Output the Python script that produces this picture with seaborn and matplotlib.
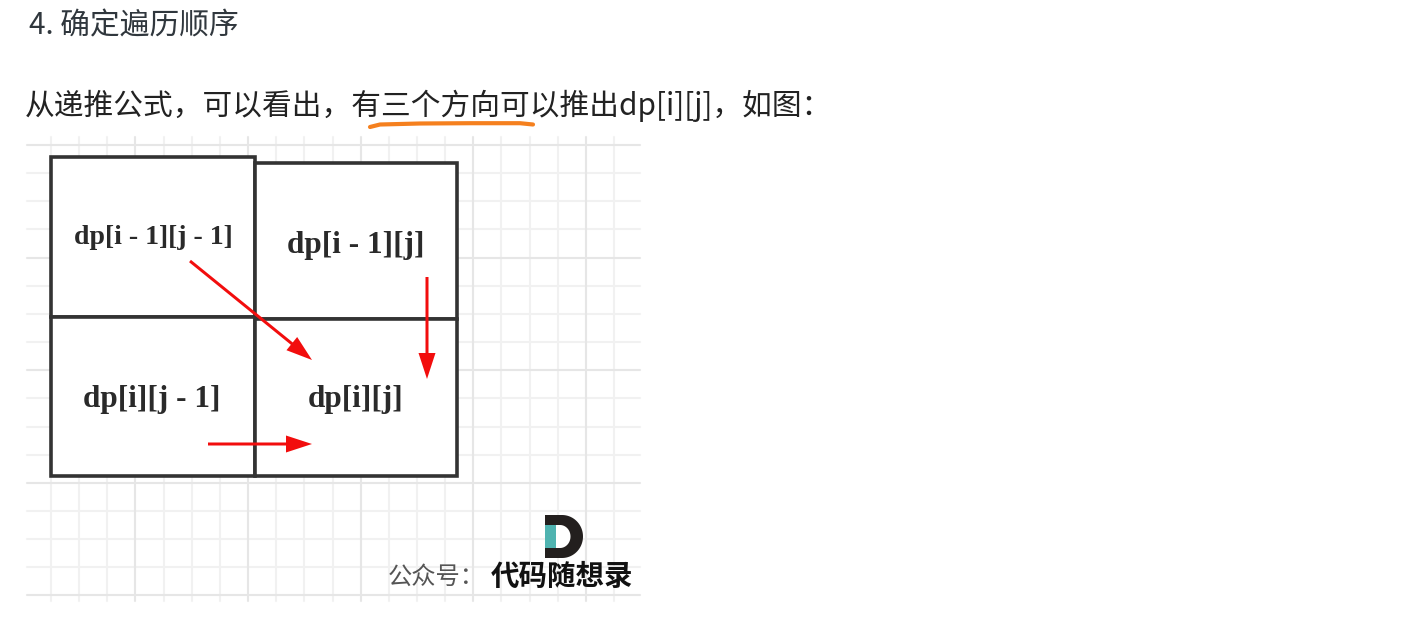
import numpy as np
import pandas as pd
import seaborn as sns
import matplotlib.pyplot as plt
from matplotlib.patches import Rectangle, Polygon

# page text
header = "4. 确定遍历顺序"
intro = "从递推公式，可以看出，有三个方向可以推出dp[i][j]，如图："
underline_x = [370, 380, 420, 470, 520, 533]
underline_y = [127, 124.5, 123.5, 123.2, 123.2, 124.5]

# the picture: background grid (pixel positions in page)
img_x = [27, 640]
img_y = [137, 601]
grid_x0, grid_y0, step = 51, 145, 28.15
n_vx, n_hy = 21, 17

# the 2x2 cells: (left, top, right, bottom)
cells = [(51, 157, 255, 317), (255, 163, 457, 319),
         (51, 317, 255, 476), (255, 319, 457, 476)]
cell_labels = ["dp[i - 1][j - 1]", "dp[i - 1][j]", "dp[i][j - 1]", "dp[i][j]"]
label_x = [153, 356, 152, 356]
label_y = [238, 245, 399, 399]
label_size = [20, 22.5, 22.5, 22.5]

# arrows: tail -> tip
arrow_from = [(190, 261), (427, 277), (208, 444)]
arrow_to = [(312, 360), (427, 379), (312, 444)]

sns.set_theme(style="white")
plt.rcParams['font.family'] = ['Noto Sans CJK SC', 'DejaVu Sans']

fig = plt.figure(figsize=(14.06, 6.21), dpi=100)
ax = fig.add_axes([0, 0, 1, 1])

ax.text(29, 34, header, fontsize=21.4, color='#30373d', va='baseline')
ax.text(25, 115, intro, fontsize=21.4, color='#222222', va='baseline')
ax.plot(underline_x, underline_y, color='#f5801e', lw=3, solid_capstyle='round')

# grid lines as long-form table
rows = []
for k in range(n_vx):
    x = grid_x0 + k * step
    kind = 'major' if k % 4 == 3 else 'minor'
    rows += [dict(line=f'v{k}', x=x, y=img_y[0], kind=kind),
             dict(line=f'v{k}', x=x, y=img_y[1], kind=kind)]
for k in range(n_hy):
    y = grid_y0 + k * step
    kind = 'major' if k % 4 == 0 else 'minor'
    rows += [dict(line=f'h{k}', x=img_x[0], y=y, kind=kind),
             dict(line=f'h{k}', x=img_x[1], y=y, kind=kind)]
grid = pd.DataFrame(rows)
sns.lineplot(data=grid, x='x', y='y', units='line', estimator=None, sort=False,
             hue='kind', palette={'minor': '#f1f1f1', 'major': '#e6e6e6'},
             linewidth=1.5, legend=False, ax=ax)
ax.set_xlim(0, 1406)
ax.set_ylim(621, 0)
ax.axis('off')

for (l, t, r, b) in cells:
    ax.add_patch(Rectangle((l, t), r - l, b - t, fc='white', ec='#333333',
                           lw=2.6, joinstyle='miter', zorder=3))

for s, x, y, fs in zip(cell_labels, label_x, label_y, label_size):
    ax.text(x, y, s, family='Liberation Serif', fontweight='bold', fontsize=fs,
            color='#2a2a2a', ha='center', va='center', zorder=4)

for (x0, y0), (x1, y1) in zip(arrow_from, arrow_to):
    ax.arrow(x0, y0, x1 - x0, y1 - y0, width=3, head_width=17, head_length=26,
             length_includes_head=True, color='#f20d0d', lw=0, zorder=5)

# logo "D"
t = np.linspace(-np.pi / 2, np.pi / 2, 60)
outer = [(545, 515)] + list(zip(562 + 21 * np.cos(t), 536.5 + 21.5 * np.sin(t))) + [(545, 558)]
inner = [(556, 525)] + list(zip(560 + 10.5 * np.cos(t), 536.5 + 11.5 * np.sin(t))) + [(556, 548)]
ax.add_patch(Polygon(outer, closed=True, fc='#231f1e', ec='none', zorder=3))
ax.add_patch(Polygon(inner, closed=True, fc='white', ec='none', zorder=3))
ax.add_patch(Rectangle((545, 525), 11, 23, fc='#4fb3b0', ec='none', zorder=3))

ax.text(388, 584, "公众号：", fontsize=17.5, color='#555555', va='baseline')
ax.text(491, 585, "代码随想录", fontsize=20.5, fontweight='heavy', color='#111111', va='baseline')

fig.savefig('out.png', dpi=100, facecolor='white')
